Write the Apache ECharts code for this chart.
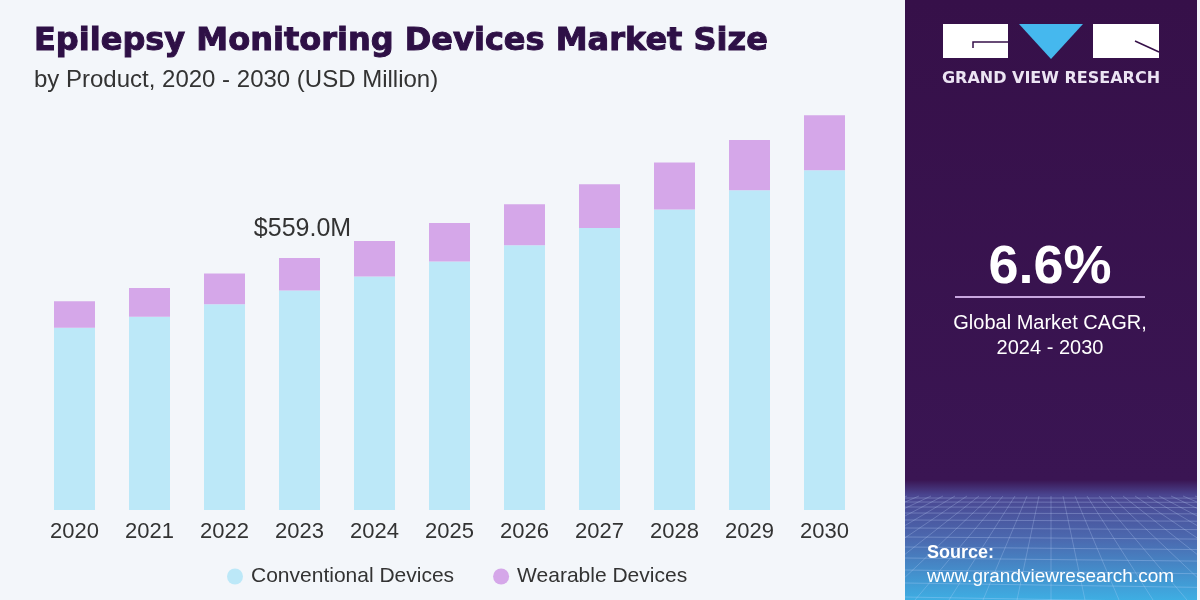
<!DOCTYPE html>
<html>
<head>
<meta charset="utf-8">
<script src="https://cdn.jsdelivr.net/npm/echarts@6/dist/echarts.min.js"></script>
<style>
html,body{margin:0;padding:0;background:#f3f6fa;}
#c{width:1200px;height:600px;}
</style>
</head>
<body>
<div id="c"></div>
<script>
const years = ['2020','2021','2022','2023','2024','2025','2026','2027','2028','2029','2030'];
const conventional = [403.9, 428.3, 456.4, 486.8, 517.8, 551.0, 587.1, 625.5, 666.2, 709.0, 753.3];
const wearable = [59.2, 64.2, 68.0, 72.2, 78.9, 85.6, 90.9, 96.8, 104.1, 111.4, 121.9];
const seriesNames = ['Conventional Devices', 'Wearable Devices'];
const labelYear = '2023';
const cagrText = '6.6%';

const chart = echarts.init(document.getElementById('c'), null, {renderer: 'canvas'});
const labelIdx = years.indexOf(labelYear);

// faint perspective grid in the source area (clipped to the panel)
const gridLines = [];
const px0 = 905, px1 = 1197, gy0 = 496, gy1 = 600;
const hys = [498, 502, 507, 513, 520, 528, 537, 547, 558, 570, 583, 597];
hys.forEach(y => gridLines.push({type:'line', shape:{x1:px0,y1:y,x2:px1,y2:y+(y-496)*0.05}, style:{stroke:'rgba(200,220,255,0.28)', lineWidth:1}, silent:true}));
for (let i = -14; i <= 14; i++) {
  let x1 = 1051 + i * 12, y1 = gy0;
  let x2 = 1051 + i * 34, y2 = gy1;
  if (x1 < px0 || x1 > px1) continue;
  if (x2 < px0 || x2 > px1) {
    const xe = x2 < px0 ? px0 : px1;
    const t = (xe - x1) / (x2 - x1);
    y2 = y1 + t * (y2 - y1);
    x2 = xe;
  }
  gridLines.push({type:'line', shape:{x1:x1,y1:y1,x2:x2,y2:y2}, style:{stroke:'rgba(200,220,255,0.25)', lineWidth:1}, silent:true});
}

chart.setOption({
  backgroundColor: '#f3f6fa',
  animation: false,
  title: [
    {text: 'Epilepsy Monitoring Devices Market Size', left: 29, top: 21,
     textStyle: {fontFamily: 'DejaVu Sans', fontWeight: 'bold', fontSize: 32, color: '#2e1046',
                 textBorderColor: '#2e1046', textBorderWidth: 1}},
    {text: 'by Product, 2020 - 2030 (USD Million)', left: 29, top: 63,
     textStyle: {fontFamily: 'Liberation Sans', fontWeight: 'normal', fontSize: 24, color: '#333333'}}
  ],
  grid: {left: 37, right: 338, top: 59, bottom: 90},
  xAxis: {
    type: 'category', data: years,
    axisLine: {show: false}, axisTick: {show: false},
    axisLabel: {fontFamily: 'Liberation Sans', fontSize: 22, color: '#333333', margin: 11}
  },
  yAxis: {type: 'value', min: 0, max: 1000, show: false, splitLine: {show: false}},
  legend: {
    data: seriesNames, left: 222, top: 561, icon: 'circle', itemWidth: 16, itemHeight: 16, itemGap: 39,
    textStyle: {fontFamily: 'Liberation Sans', fontSize: 21, color: '#333333', padding: [0,0,0,3]}
  },
  series: [
    {name: seriesNames[0], type: 'bar', stack: 'a', barWidth: 41, data: conventional,
     itemStyle: {color: '#bce8f8'}},
    {name: seriesNames[1], type: 'bar', stack: 'a', barWidth: 41,
     data: wearable.map((v, i) => i === labelIdx ? {value: v, label: {show: true}} : v),
     itemStyle: {color: '#d5a7e9'},
     label: {show: false, position: 'top', distance: 16, offset: [3, 0], fontFamily: 'Liberation Sans', fontSize: 25, color: '#333333',
       formatter: p => '$' + (conventional[p.dataIndex] + wearable[p.dataIndex]).toFixed(1) + 'M'}}
  ],
  graphic: [
    {type: 'rect', shape: {x: 905, y: 0, width: 292, height: 600}, silent: true,
     style: {fill: new echarts.graphic.LinearGradient(0, 0, 0, 1, [
       {offset: 0, color: '#361049'},
       {offset: 0.8, color: '#3a1553'},
       {offset: 0.825, color: '#4a4590'},
       {offset: 0.9, color: '#4b6ab0'},
       {offset: 1, color: '#3eaee3'}
     ])}},
    ...gridLines,
    // logo
    {type: 'rect', shape: {x: 943, y: 24, width: 65, height: 34}, style: {fill: '#ffffff'}, silent: true},
    {type: 'polyline', shape: {points: [[973, 48], [973, 42], [1008, 42]]}, style: {stroke: '#361049', lineWidth: 1.5, fill: null}, silent: true},
    {type: 'polygon', shape: {points: [[1019, 24], [1083, 24], [1051, 59]]}, style: {fill: '#45b8ee'}, silent: true},
    {type: 'rect', shape: {x: 1093, y: 24, width: 66, height: 34}, style: {fill: '#ffffff'}, silent: true},
    {type: 'line', shape: {x1: 1135, y1: 41, x2: 1159, y2: 52}, style: {stroke: '#361049', lineWidth: 1.5}, silent: true},
    {type: 'text', x: 1051, y: 79, silent: true,
     style: {text: 'GRAND VIEW RESEARCH', fill: '#ece4f3', font: 'bold 16px "DejaVu Sans"', textAlign: 'center', textVerticalAlign: 'middle'}},
    // CAGR
    {type: 'text', x: 1050, y: 268, silent: true,
     style: {text: cagrText, fill: '#ffffff', font: 'bold 54px "Liberation Sans"', textAlign: 'center', textVerticalAlign: 'middle'}},
    {type: 'line', shape: {x1: 955, y1: 297, x2: 1145, y2: 297}, style: {stroke: '#c8a6df', lineWidth: 2}, silent: true},
    {type: 'text', x: 1050, y: 323, silent: true,
     style: {text: 'Global Market CAGR,', fill: '#ffffff', font: '20px "Liberation Sans"', textAlign: 'center', textVerticalAlign: 'middle'}},
    {type: 'text', x: 1050, y: 348, silent: true,
     style: {text: '2024 - 2030', fill: '#ffffff', font: '20px "Liberation Sans"', textAlign: 'center', textVerticalAlign: 'middle'}},
    // source
    {type: 'text', x: 927, y: 553, silent: true,
     style: {text: 'Source:', fill: '#ffffff', font: 'bold 18px "Liberation Sans"', textAlign: 'left', textVerticalAlign: 'middle'}},
    {type: 'text', x: 927, y: 577, silent: true,
     style: {text: 'www.grandviewresearch.com', fill: '#ffffff', font: '19px "Liberation Sans"', textAlign: 'left', textVerticalAlign: 'middle'}}
  ]
});
</script>
</body>
</html>
